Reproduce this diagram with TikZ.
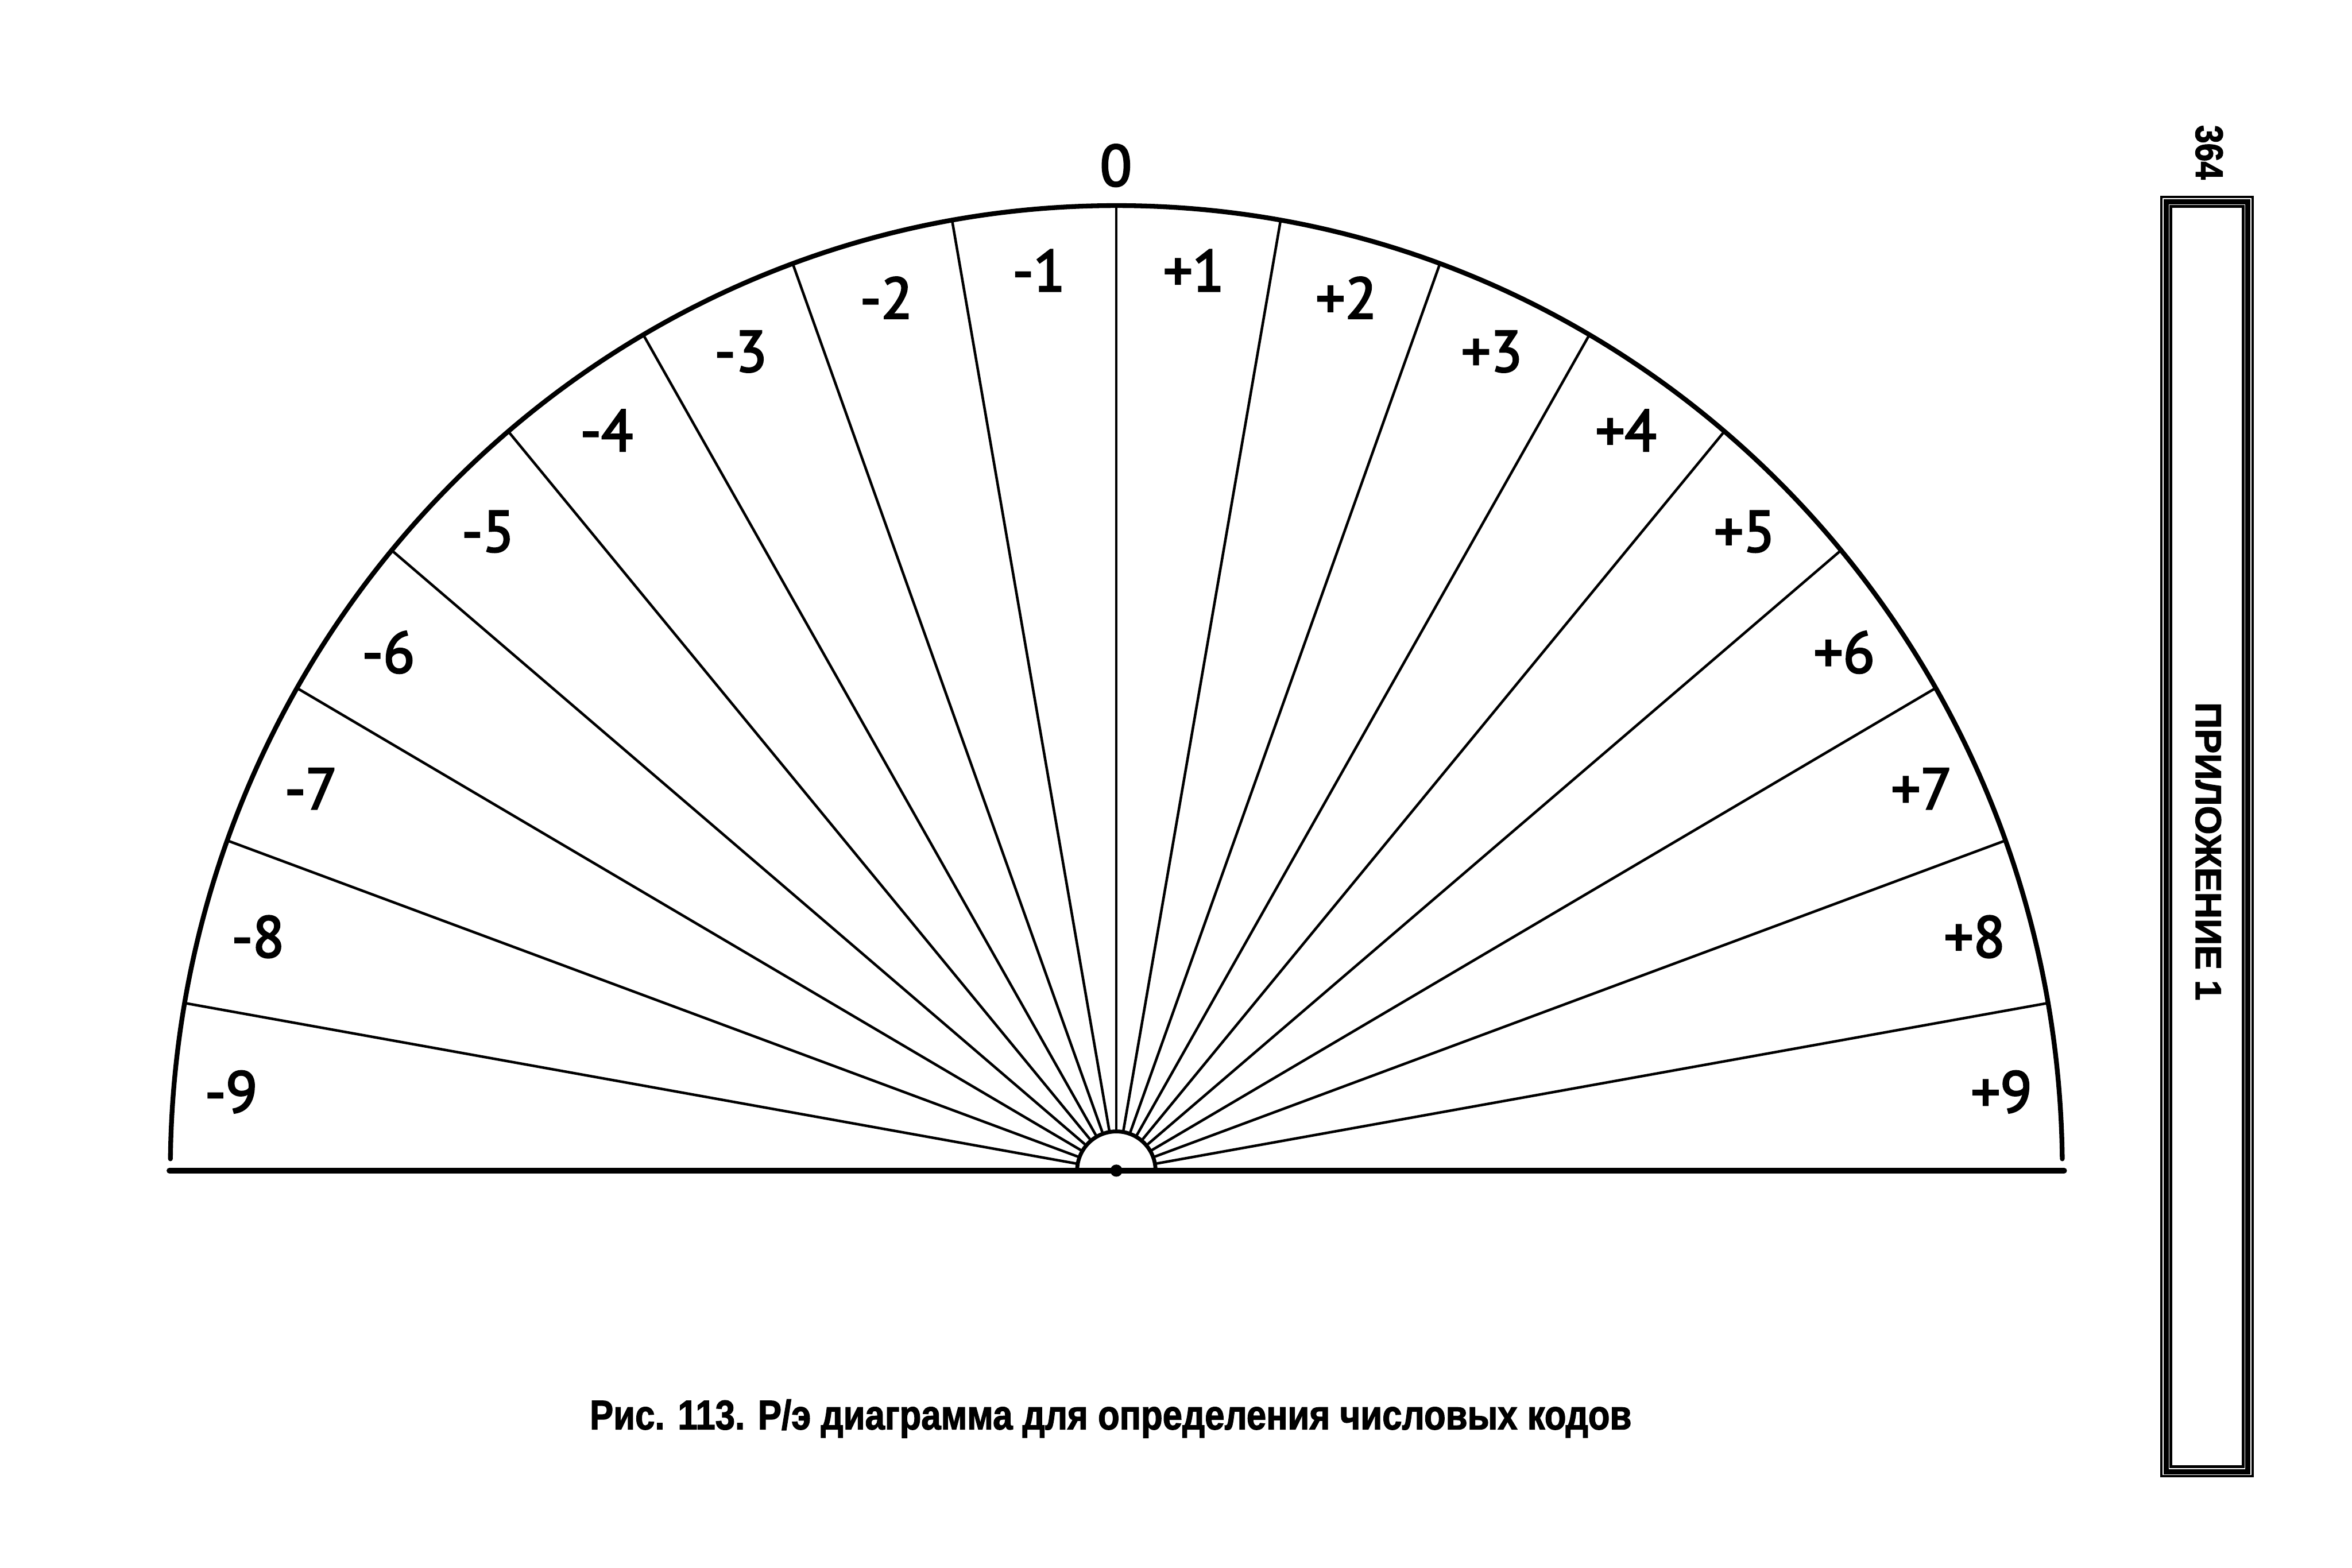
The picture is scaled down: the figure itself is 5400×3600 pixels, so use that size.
\documentclass[tikz,border=0pt]{standalone}
\usepackage{fontspec}
\usepackage{graphicx}
\setmainfont{PT Sans}[FakeBold=3]
\newfontfamily\capfont{Liberation Sans}[FakeBold=2]
\usetikzlibrary{calc}
\begin{document}
\begin{tikzpicture}[x=0.005cm,y=0.005cm,
  ray/.style={line width=0.85pt, line cap=round},
  lbl/.style={font=\fontsize{19}{22}\selectfont, inner sep=0pt},
  sidetext/.style={rotate=-90, inner sep=0pt}]
\useasboundingbox (0,0) rectangle (5400,3600);
\fill[white] (0,0) rectangle (5400,3600);
% geometry
\coordinate (C) at (2563,912);
\coordinate (BL) at (389,912);
\coordinate (BR) at (4739,912);
% baseline
\draw[line width=1.85pt, line cap=round] (BL) -- (BR);
% outer arc
\draw[line width=1.56pt, line cap=round] (C) ++(0.7:2172 and 2216)
  arc[start angle=0.7, end angle=179.3, x radius=2172, y radius=2216];
% rays
\foreach \a in {10,20,...,170} {
  \coordinate (rs\a) at ($(C)+(\a:95)$);
  \coordinate (re\a) at ($(C)+(\a:2172 and 2216)$);
  \draw[ray] (rs\a) -- (re\a);
}
% small semicircle and dot
\draw[line width=1.28pt] (C) ++(90,0) arc[start angle=0, end angle=180, radius=90];
\fill (C) circle[radius=14];
% labels
\foreach \k [evaluate=\k as \ap using 95-10*\k, evaluate=\k as \am using 85+10*\k] in {1,...,9} {
  \node[lbl] (p\k) at ($(C)+(\ap:2040 and 2075)$) {+\k};
  \node[lbl] (m\k) at ($(C)+(\am:2040 and 2075)$) {-\k};
}
\node[lbl] (zero) at (2562,3220) {0};
% side frame
\draw[line width=3.84pt] (4973.5,221.5) rectangle (5160.5,3136.5);
\draw[white, line width=0.3pt] (4966,214) rectangle (5168,3144);
\draw[white, line width=0.3pt] (4980,228) rectangle (5154,3130);
\node[sidetext] (page) at (5072,3250) {\resizebox{17.8pt}{8.8pt}{\capfont\bfseries 364}};
\node[sidetext] (app) at (5070,1645) {\resizebox{97.5pt}{8.25pt}{\capfont\bfseries ПРИЛОЖЕНИЕ 1}};
% caption
\node[inner sep=0pt, anchor=base] (cap) at (2550,318)
  {\resizebox{340.6pt}{9.8pt}{\capfont\bfseries Рис. 113. Р/э диаграмма для определения числовых кодов}};
\end{tikzpicture}
\end{document}
